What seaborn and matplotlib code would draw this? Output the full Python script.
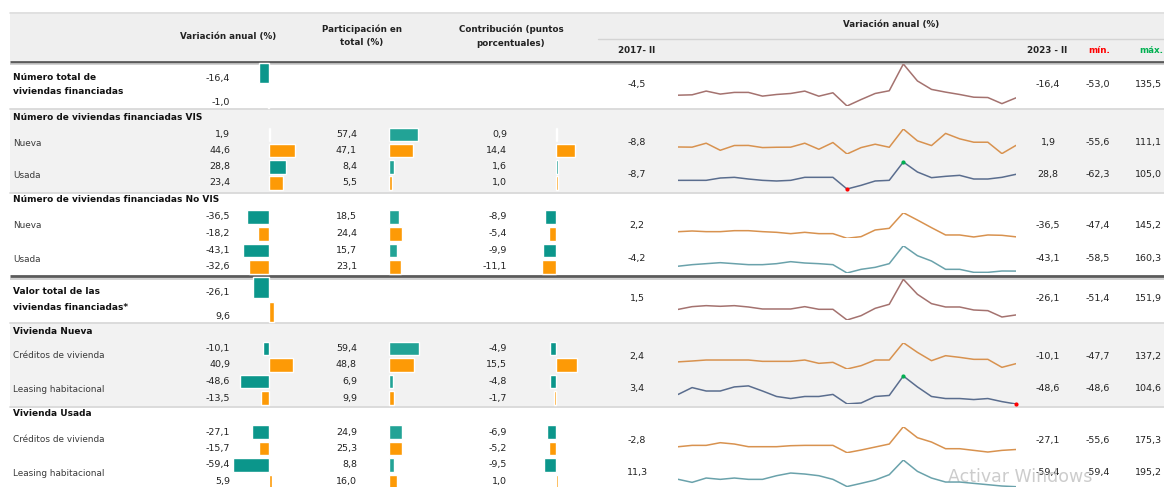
import numpy as np
import pandas as pd
import matplotlib.pyplot as plt
from matplotlib import font_manager
from matplotlib.patches import Rectangle
import seaborn as sns

# ==============================
# DATA
# ==============================

grupos = ["Total", "VIS Nueva", "VIS Usada", "No VIS Nueva", "No VIS Usada",
          "Valor total", "Nueva Créditos", "Nueva Leasing", "Usada Créditos", "Usada Leasing"]

# variación anual (%): 2023-II (teal) y 2022-II (naranja)
var_actual = [-16.4, 1.9, 28.8, -36.5, -43.1, -26.1, -10.1, -48.6, -27.1, -59.4]
var_anterior = [-1.0, 44.6, 23.4, -18.2, -32.6, 9.6, 40.9, -13.5, -15.7, 5.9]

# participación en total (%)
part_actual = [None, 57.4, 8.4, 18.5, 15.7, None, 59.4, 6.9, 24.9, 8.8]
part_anterior = [None, 47.1, 5.5, 24.4, 23.1, None, 48.8, 9.9, 25.3, 16.0]

# contribución (puntos porcentuales)
contrib_actual = [None, 0.9, 1.6, -8.9, -9.9, None, -4.9, -4.8, -6.9, -9.5]
contrib_anterior = [None, 14.4, 1.0, -5.4, -11.1, None, 15.5, -1.7, -5.2, 1.0]

# sparklines 2017-II ... 2023-II
spark_inicio = [-4.5, -8.8, -8.7, 2.2, -4.2, 1.5, 2.4, 3.4, -2.8, 11.3]
spark_min = [-53.0, -55.6, -62.3, -47.4, -58.5, -51.4, -47.7, -48.6, -55.6, -59.4]
spark_max = [135.5, 111.1, 105.0, 145.2, 160.3, 151.9, 137.2, 104.6, 175.3, 195.2]

serie_total = [-4.5, -2.8, 14.0, 0.5, 8.0, 8.0, -8.6, -1.3, 3.2, 13.9, -9.0, 6.3, -53.0,
               -24.0, 3.2, 15.4, 135.5, 59.5, 21.5, 9.3, -1.3, -13.5, -15.0, -42.4, -16.4]
serie_vis_nueva = [-8.8, -10.0, 16.4, -30.8, 1.0, 1.5, -12.8, -10.6, -10.0, 16.4, -24.0, 20.9, -55.6,
                   -12.8, 9.7, -10.6, 111.1, 32.2, 0.7, 81.7, 45.6, 23.0, 23.0, -53.0, 1.9]
serie_vis_usada = [-8.7, -8.6, -8.6, 5.8, 10.0, -0.4, -8.6, -12.7, -8.6, 10.0, 10.0, 10.0, -62.3,
                   -39.6, -12.7, -8.6, 105.0, 43.0, 7.9, 16.2, 22.4, -0.4, -0.4, 10.0, 28.8]
serie_novis_nueva = [2.2, 7.6, 2.6, 2.6, 10.0, 10.0, 2.6, -2.4, -12.4, -2.4, -12.4, -12.4, -47.4,
                     -34.9, 15.1, 27.6, 145.2, 90.0, 32.6, -22.4, -22.4, -37.4, -22.4, -24.9, -36.5]
serie_novis_usada = [-4.2, 8.3, 16.3, 24.3, 16.3, 8.3, 8.3, 16.3, 32.3, 21.6, 16.3, 8.3, -58.5,
                     -29.1, -13.1, 16.3, 160.3, 80.3, 37.6, -29.1, -29.1, -53.2, -53.2, -42.5, -43.1]
serie_valor = [1.5, 15.3, 20.3, 17.0, 20.3, 13.6, 3.6, 3.6, 3.6, 15.3, 2.0, 2.0, -51.4,
               -29.7, 6.9, 27.0, 151.9, 77.0, 30.3, 13.6, 13.6, -1.4, -4.7, -36.4, -26.1]
serie_nueva_cred = [2.4, 8.5, 15.5, 15.5, 15.5, 15.5, 6.1, 6.1, 6.1, 15.5, -7.9, -0.9, -47.7,
                    -24.3, 15.5, 15.5, 137.2, 69.3, 10.8, 45.9, 34.2, 20.2, 20.2, -36.0, -10.1]
serie_nueva_leas = [3.4, 41.2, 22.5, 22.5, 44.9, 50.5, 22.5, -7.5, -18.7, -7.5, -7.5, 3.8, -47.9,
                    -43.0, -7.5, -1.9, 104.6, 44.9, -7.5, -18.7, -18.7, -24.3, -18.7, -35.5, -48.6]
serie_usada_cred = [-2.8, 9.5, 9.5, 33.2, 21.4, -2.3, -2.3, -2.3, 6.6, 9.5, 9.5, 9.5, -55.6,
                    -31.9, -5.3, 21.4, 175.3, 77.6, 39.1, -20.1, -20.1, -34.9, -49.7, -34.9, -27.1]
serie_usada_leas = [11.3, -18.0, 23.3, 10.6, 23.3, 10.6, 10.6, 45.5, 71.0, 61.4, 45.5, 10.6, -58.0,
                    -27.6, 4.2, 55.0, 195.2, 86.9, 23.3, -14.9, -14.9, -27.6, -40.3, -53.0, -59.4]

series = [serie_total, serie_vis_nueva, serie_vis_usada, serie_novis_nueva, serie_novis_usada,
          serie_valor, serie_nueva_cred, serie_nueva_leas, serie_usada_cred, serie_usada_leas]

periodos = [f"{a}-{q}" for a in range(2017, 2024) for q in ["I", "II", "III", "IV"]][1:26]

# ==============================
# LAYOUT (pixels)
# ==============================

W, H = 1164, 487
TEAL, ORANGE = "#0b968b", "#fd9a06"
TEAL_PART = "#22a396"
C_MAUVE, C_ORANGE, C_SLATE, C_TEALG = "#a4726f", "#d8924f", "#5a6d8e", "#6aa2ab"
spark_colores = [C_MAUVE, C_ORANGE, C_SLATE, C_ORANGE, C_TEALG,
                 C_MAUVE, C_ORANGE, C_SLATE, C_ORANGE, C_TEALG]

# y de las barras (actual, anterior) y del texto de la derecha
bar_y = [(73, 97.5), (134.5, 150.7), (166.8, 183), (217, 233.8), (250.5, 267),
         (287.5, 312), (348.5, 364.8), (381.5, 398), (432, 448.5), (465, 481.5)]
txt_shift = [5, 0, 0, 0, 0, 5, 0, 0, 0, 0]
fila_y = [85, 142, 175, 225.5, 258.5, 298, 356, 389, 440, 473]
spark_box = [(64, 106), (129, 154), (162, 189), (212.7, 238.3), (245.7, 273),
             (279.3, 320), (342.7, 369), (376, 404), (426.7, 452.7), (460, 486.7)]
spark_puntos = {2: True, 7: True}
secciones = [[0], [1, 2], [3, 4], [5], [6, 7], [8, 9]]

names = {f.name for f in font_manager.fontManager.ttflist}
NUM_FONT = ["Liberation Sans Narrow", "DejaVu Sans"] if "Liberation Sans Narrow" in names else ["DejaVu Sans"]
LBL = ["DejaVu Sans"]

sns.set_style("white")
plt.rcParams['font.family'] = ["DejaVu Sans"]

fig = plt.figure(figsize=(W / 100, H / 100), dpi=100)
fig.patch.set_facecolor("white")

bg = fig.add_axes([0, 0, 1, 1])
bg.set_xlim(0, W)
bg.set_ylim(H, 0)
bg.axis("off")


def ax_px(x0, x1, y0, y1):
    a = fig.add_axes([x0 / W, 1 - y1 / H, (x1 - x0) / W, (y1 - y0) / H])
    a.patch.set_alpha(0)
    return a


# fondos grises
bg.add_patch(Rectangle((10, 12), W - 10, 50, color="#efefef", lw=0))
bg.plot([10, W], [12.5, 12.5], color="#dddddd", lw=1.2)
for y0, y1 in [(109, 193), (323, 406.5)]:
    bg.add_patch(Rectangle((10, y0), W - 10, y1 - y0, color="#f2f2f2", lw=0))
for y in [108.5, 193, 323, 406.5]:
    bg.plot([10, W], [y, y], color="#d9d9d9", lw=1.3)
bg.plot([598, W], [38.5, 38.5], color="#d4d4d4", lw=1.0)
for y in [61.5, 276]:
    bg.plot([10, W], [y, y], color="#5b5b5b", lw=2.0, solid_capstyle="butt")
    bg.plot([10, W], [y + 2.6, y + 2.6], color="#c9c9c9", lw=1.2, solid_capstyle="butt")

# encabezados
hdr = dict(fontsize=6.3, fontweight="bold", color="#222222", family=LBL)
bg.text(228, 36, "Variación anual (%)", ha="center", va="center", **hdr)
bg.text(362, 29, "Participación en", ha="center", va="center", **hdr)
bg.text(362, 43, "total (%)", ha="center", va="center", **hdr)
bg.text(511, 29, "Contribución (puntos", ha="center", va="center", **hdr)
bg.text(511, 43, "porcentuales)", ha="center", va="center", **hdr)
bg.text(891, 25, "Variación anual (%)", ha="center", va="center", **hdr)
bg.text(637, 50.5, "2017- II", ha="center", va="center", **hdr)
bg.text(1047, 50.5, "2023 - II", ha="center", va="center", **hdr)
bg.text(1099, 50.5, "mín.", ha="center", va="center", **{**hdr, "color": "#ff0000"})
bg.text(1163, 50.5, "máx.", ha="right", va="center", **{**hdr, "color": "#00b050"})

# etiquetas de filas
tit = dict(fontsize=6.5, fontweight="bold", color="#111111", family=LBL, va="center")
sub = dict(fontsize=6.4, color="#3a3a3a", family=LBL, va="center")
bg.text(13, 77, "Número total de", **tit)
bg.text(13, 92, "viviendas financiadas", **tit)
bg.text(13, 117, "Número de viviendas financiadas VIS", **tit)
bg.text(13, 143, "Nueva", **sub)
bg.text(13, 176, "Usada", **sub)
bg.text(13, 200, "Número de viviendas financiadas No VIS", **tit)
bg.text(13, 226, "Nueva", **sub)
bg.text(13, 260, "Usada", **sub)
bg.text(13, 291, "Valor total de las", **tit)
bg.text(13, 307, "viviendas financiadas*", **tit)
bg.text(13, 331.5, "Vivienda Nueva", **tit)
bg.text(13, 356, "Créditos de vivienda", **sub)
bg.text(13, 389, "Leasing habitacional", **sub)
bg.text(13, 414, "Vivienda Usada", **tit)
bg.text(13, 440, "Créditos de vivienda", **sub)
bg.text(13, 473, "Leasing habitacional", **sub)


def fmt(v):
    return f"{v:.1f}".replace(".", ",")


num = dict(fontsize=6.8, color="#222222", family=NUM_FONT, va="center")

# ==============================
# COLUMNAS DE BARRAS
# ==============================

columnas = [
    (var_actual, var_anterior, 268.7, 0.6, 205, 330, 230, TEAL),
    (part_actual, part_anterior, 389.3, 0.5, 370, 440, 357, TEAL_PART),
    (contrib_actual, contrib_anterior, 556.3, 1.32, 525, 590, 507, TEAL),
]

for actual, anterior, cero, escala, x0, x1, x_txt, c_act in columnas:
    ax = ax_px(x0, x1, 0, H)
    for sec in secciones:
        filas = [i for i in sec if actual[i] is not None]
        if not filas:
            continue
        df = pd.DataFrame({
            "valor": [actual[i] for i in filas] + [anterior[i] for i in filas],
            "y": [bar_y[i][0] for i in filas] + [bar_y[i][1] for i in filas],
            "serie": ["actual"] * len(filas) + ["anterior"] * len(filas),
        })
        sns.barplot(data=df, x="valor", y="y", hue="serie", orient="h", native_scale=True,
                    dodge=False, palette={"actual": c_act, "anterior": ORANGE},
                    saturation=1, width=0.84, errorbar=None, legend=False, ax=ax)
    ax.set_xlim(-(cero - x0) / escala, (x1 - cero) / escala)
    ax.set_ylim(H, 0)
    ax.axis("off")
    for i in range(len(grupos)):
        if actual[i] is None:
            continue
        bg.text(x_txt, bar_y[i][0] + txt_shift[i], fmt(actual[i]), ha="right", **num)
        bg.text(x_txt, bar_y[i][1] + txt_shift[i], fmt(anterior[i]), ha="right", **num)

# ==============================
# SPARKLINES
# ==============================

x_idx = np.arange(len(periodos))
for i, serie in enumerate(series):
    top, bot = spark_box[i]
    ax = ax_px(678, 1016, top, bot)
    sns.lineplot(x=x_idx, y=serie, color=spark_colores[i], lw=1.1, ax=ax)
    if i in spark_puntos:
        k_min, k_max = int(np.argmin(serie)), int(np.argmax(serie))
        ax.scatter([k_min], [serie[k_min]], s=4, color="#ff0000", zorder=3, clip_on=False)
        ax.scatter([k_max], [serie[k_max]], s=4, color="#00b050", zorder=3, clip_on=False)
    ax.set_xlim(0, len(periodos) - 1)
    ax.set_ylim(min(serie), max(serie))
    ax.axis("off")

    y = fila_y[i]
    bg.text(637, y, fmt(spark_inicio[i]), ha="center", **num)
    bg.text(1048, y, fmt(var_actual[i]), ha="center", **num)
    bg.text(1098, y, fmt(spark_min[i]), ha="center", **num)
    bg.text(1162, y, fmt(spark_max[i]), ha="right", **num)

# marca de agua de la captura
bg.text(948, 477, "Activar Windows", fontsize=12.5, color="#c4c4c4", alpha=0.85,
        va="center", ha="left", family=["DejaVu Sans"])

fig.savefig("out.png", dpi=100)
plt.close(fig)
